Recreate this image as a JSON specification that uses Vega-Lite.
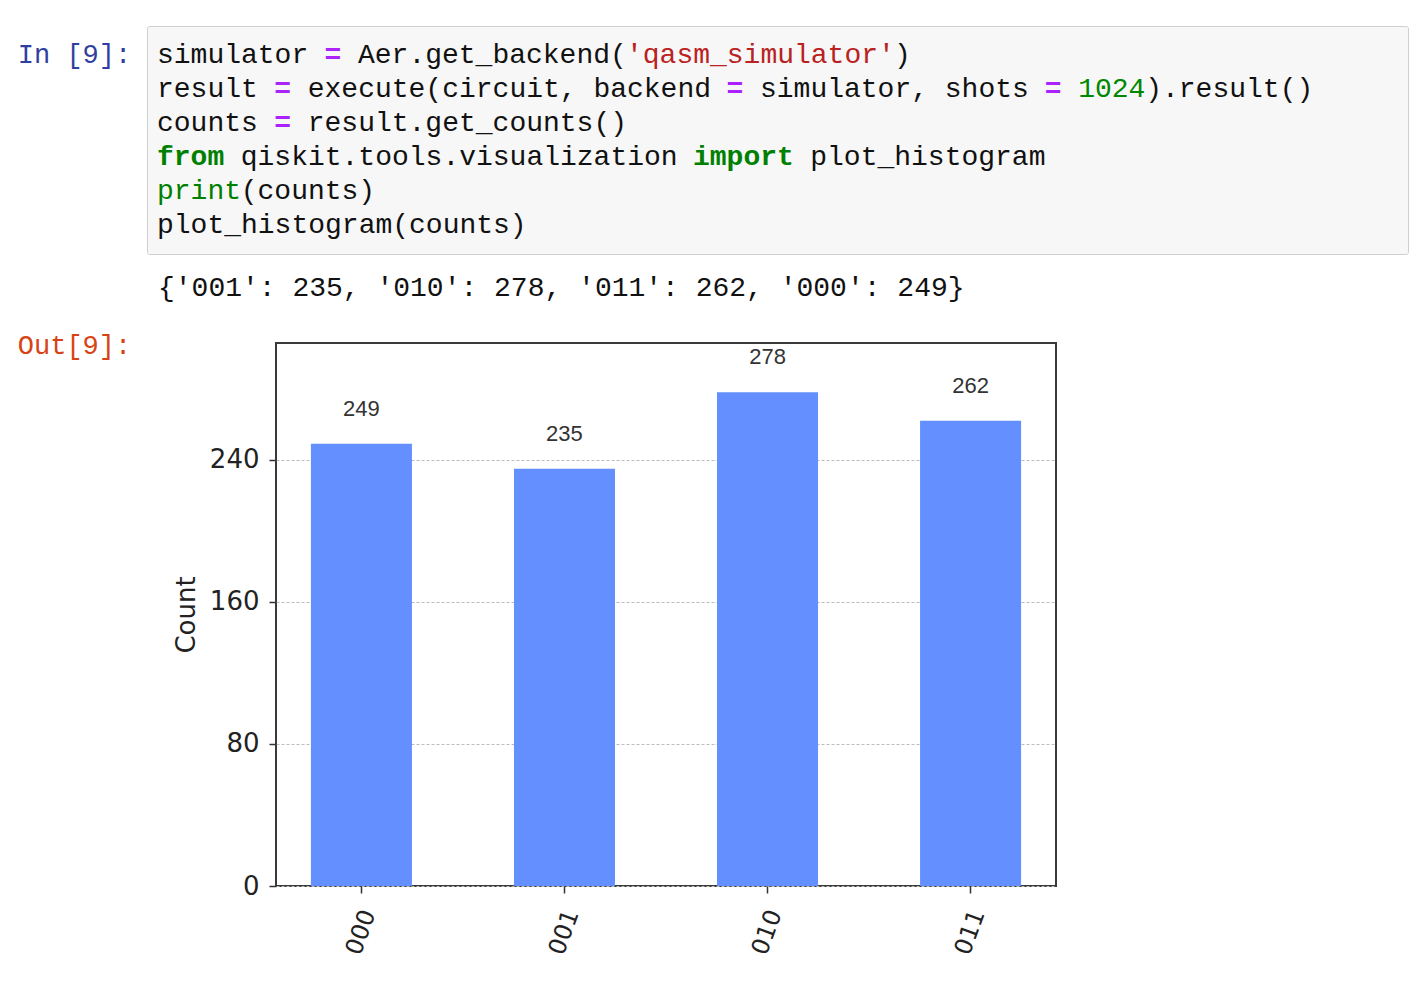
{
  "$schema": "https://vega.github.io/schema/vega-lite/v6.json",
  "background": "white",
  "padding": {"left": 17, "top": 25, "right": 0, "bottom": 0},
  "autosize": {"type": "pad"},
  "config": {"view": {"stroke": null}},
  "datasets": {
    "code": [
      {"line": 1, "col": 0, "token": "simulator", "kind": "plain"},
      {"line": 1, "col": 10, "token": "=", "kind": "op"},
      {"line": 1, "col": 12, "token": "Aer.get_backend(", "kind": "plain"},
      {"line": 1, "col": 28, "token": "'qasm_simulator'", "kind": "str"},
      {"line": 1, "col": 44, "token": ")", "kind": "plain"},
      {"line": 2, "col": 0, "token": "result", "kind": "plain"},
      {"line": 2, "col": 7, "token": "=", "kind": "op"},
      {"line": 2, "col": 9, "token": "execute(circuit, backend", "kind": "plain"},
      {"line": 2, "col": 34, "token": "=", "kind": "op"},
      {"line": 2, "col": 36, "token": "simulator, shots", "kind": "plain"},
      {"line": 2, "col": 53, "token": "=", "kind": "op"},
      {"line": 2, "col": 55, "token": "1024", "kind": "num"},
      {"line": 2, "col": 59, "token": ").result()", "kind": "plain"},
      {"line": 3, "col": 0, "token": "counts", "kind": "plain"},
      {"line": 3, "col": 7, "token": "=", "kind": "op"},
      {"line": 3, "col": 9, "token": "result.get_counts()", "kind": "plain"},
      {"line": 4, "col": 0, "token": "from", "kind": "kw"},
      {"line": 4, "col": 5, "token": "qiskit.tools.visualization", "kind": "plain"},
      {"line": 4, "col": 32, "token": "import", "kind": "kw"},
      {"line": 4, "col": 39, "token": "plot_histogram", "kind": "plain"},
      {"line": 5, "col": 0, "token": "print", "kind": "builtin"},
      {"line": 5, "col": 5, "token": "(counts)", "kind": "plain"},
      {"line": 6, "col": 0, "token": "plot_histogram(counts)", "kind": "plain"}
    ],
    "counts": [
      {"state": "000", "count": 249},
      {"state": "001", "count": 235},
      {"state": "010", "count": 278},
      {"state": "011", "count": 262}
    ]
  },
  "spacing": 0,
  "vconcat": [
    {
      "spacing": 0,
      "hconcat": [
        {
          "width": 129,
          "height": 228,
          "data": {"values": [{"prompt": "In [9]:", "line": 1}]},
          "mark": {"type": "text", "align": "center", "baseline": "middle", "font": "Liberation Mono", "fontSize": 27, "color": "#303f9f", "dx": -7},
          "encoding": {
            "text": {"field": "prompt"},
            "y": {"field": "line", "type": "ordinal", "scale": {"type": "point", "padding": 0.853, "domain": [1, 2, 3, 4, 5, 6]}, "axis": null}
          }
        },
        {
          "width": 1261,
          "height": 228,
          "view": {"fill": "#f7f7f7", "stroke": "#cfcfcf", "strokeWidth": 1, "cornerRadius": 2},
          "data": {"name": "code"},
          "encoding": {
            "x": {"field": "col", "type": "quantitative", "scale": {"domain": [-0.597, 74.69], "nice": false, "zero": false}, "axis": null},
            "y": {"field": "line", "type": "ordinal", "scale": {"type": "point", "padding": 0.853, "domain": [1, 2, 3, 4, 5, 6]}, "axis": null},
            "text": {"field": "token"},
            "color": {
              "field": "kind", "type": "nominal", "legend": null,
              "scale": {"domain": ["plain", "op", "str", "num", "kw", "builtin"], "range": ["#111111", "#aa22ff", "#ba2121", "#008800", "#008000", "#008000"]}
            }
          },
          "layer": [
            {
              "transform": [{"filter": "datum.kind !== 'op' && datum.kind !== 'kw'"}],
              "mark": {"type": "text", "align": "left", "baseline": "middle", "font": "Liberation Mono", "fontSize": 28}
            },
            {
              "transform": [{"filter": "datum.kind === 'op' || datum.kind === 'kw'"}],
              "mark": {"type": "text", "align": "left", "baseline": "middle", "font": "Liberation Mono", "fontSize": 28, "fontWeight": "bold"}
            }
          ]
        }
      ]
    },
    {
      "width": 1000,
      "height": 77,
      "data": {"values": [{"col": 0, "out": "{'001': 235, '010': 278, '011': 262, '000': 249}"}]},
      "mark": {"type": "text", "align": "left", "baseline": "middle", "font": "Liberation Mono", "fontSize": 28, "color": "#111111", "dy": -6},
      "encoding": {
        "x": {"field": "col", "type": "quantitative", "scale": {"domain": [-8.418, 51.28], "nice": false, "zero": false}, "axis": null},
        "text": {"field": "out"}
      }
    },
    {
      "spacing": 0,
      "hconcat": [
        {
          "width": 155,
          "height": 6,
          "data": {"values": [{"prompt": "Out[9]:"}]},
          "mark": {"type": "text", "align": "center", "baseline": "middle", "font": "Liberation Mono", "fontSize": 27, "color": "#d84315", "dx": -20},
          "encoding": {"text": {"field": "prompt"}}
        },
        {
          "width": 780,
          "height": 543,
          "view": {"stroke": "#3a3a3a", "strokeWidth": 2},
          "data": {"name": "counts"},
          "encoding": {
            "x": {
              "field": "state", "type": "nominal", "sort": null,
              "scale": {"paddingInner": 0.5025, "paddingOuter": 0.172},
              "axis": {"title": null, "labelAngle": -70, "labelAlign": "center", "labelBaseline": "middle", "labelFont": "DejaVu Sans", "labelFontSize": 24, "labelColor": "#222222", "labelPadding": 39, "tickSize": 7, "tickColor": "#333333", "tickWidth": 1.5, "domain": false, "grid": false}
            },
            "y": {
              "field": "count", "type": "quantitative",
              "scale": {"domain": [0, 305.8], "nice": false},
              "axis": {"title": "Count", "values": [0, 80, 160, 240], "grid": true, "gridDash": [3, 2], "gridColor": "#bcbcbc", "gridWidth": 1, "domain": false, "tickSize": 7, "tickColor": "#333333", "tickWidth": 1.5, "labelFont": "DejaVu Sans", "labelFontSize": 26, "labelColor": "#222222", "labelPadding": 10, "titleFont": "DejaVu Sans", "titleFontSize": 26, "titleFontWeight": "normal", "titleColor": "#222222", "titlePadding": 10}
            }
          },
          "layer": [
            {"mark": {"type": "bar", "color": "#648fff"}},
            {
              "mark": {"type": "text", "baseline": "alphabetic", "dy": -28, "font": "Liberation Sans", "fontSize": 22, "color": "#333333"},
              "encoding": {"text": {"field": "count", "type": "quantitative"}}
            }
          ]
        }
      ]
    }
  ]
}
